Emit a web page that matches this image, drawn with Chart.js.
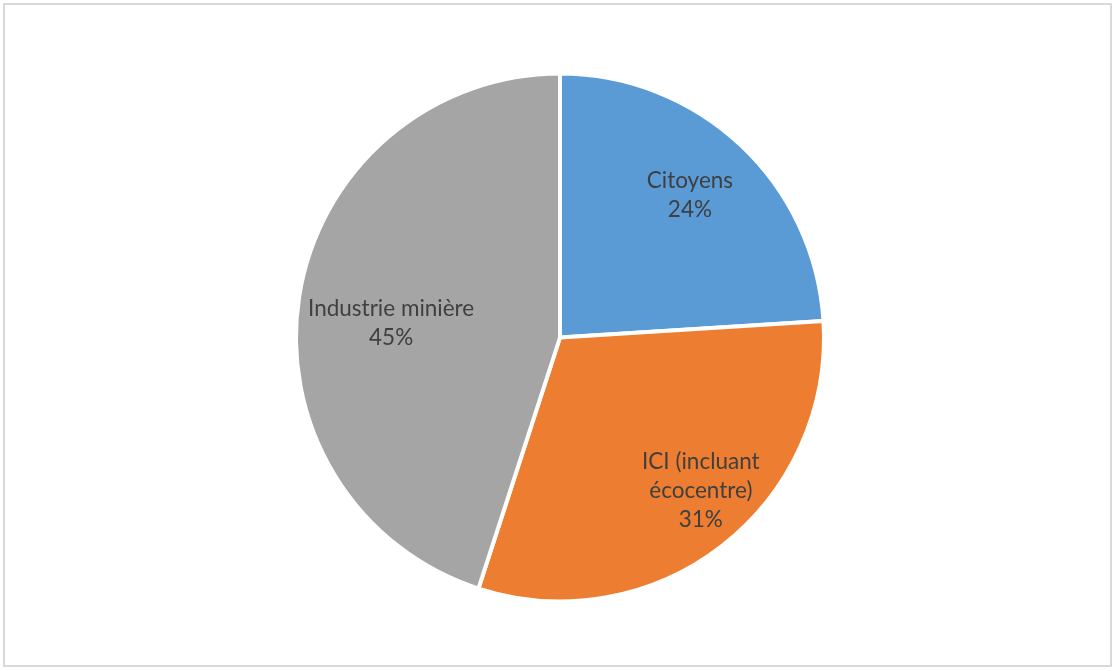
<!DOCTYPE html>
<html>
<head>
<meta charset="utf-8">
<script src="https://cdn.jsdelivr.net/npm/chart.js@4.4.1/dist/chart.umd.min.js"></script>
<style>
    html, body { margin: 0; padding: 0; background: #ffffff; }
    #wrap {
        position: absolute; left: 0; top: 0;
        width: 1116px; height: 671px;
    }
    #frame {
        position: absolute; left: 3px; top: 3px;
        width: 1109px; height: 664px;
        border: 2px solid #d9d9d9; box-sizing: border-box;
    }
    canvas { position: absolute; left: 0; top: 0; }
</style>
</head>
<body>
<div id="wrap">
    <div id="frame"></div>
    <canvas id="pie-chart" width="1116" height="671"></canvas>
</div>
<script>
    // Share of collected material by source
    const categories = ['Citoyens', 'ICI (incluant écocentre)', 'Industrie minière'];
    const shares = [24, 31, 45];
    const sliceColors = ['#5B9BD5', '#ED7D31', '#A5A5A5'];

    // Label text split into lines the way they wrap inside the slices
    const labelLines = [['Citoyens'], ['ICI (incluant', 'écocentre)'], ['Industrie minière']];
    // Distance of each label from the centre, as a share of the radius, plus a small nudge
    const labelRadius = [0.73, 0.79, 0.64];
    const labelNudge = [[-2, -2], [13, -12], [-2, 12]];

    const sliceLabels = {
        id: 'sliceLabels',
        afterDatasetsDraw(chart) {
            const ctx = chart.ctx;
            const meta = chart.getDatasetMeta(0);
            const total = shares.reduce((a, b) => a + b, 0);
            ctx.save();
            ctx.font = '22.5px Lato';
            ctx.fillStyle = '#3f3f3f';
            ctx.textAlign = 'center';
            ctx.textBaseline = 'middle';
            meta.data.forEach(function(arc, i) {
                const p = arc.getProps(['x', 'y', 'startAngle', 'endAngle', 'outerRadius'], true);
                const mid = (p.startAngle + p.endAngle) / 2;
                const r = p.outerRadius * labelRadius[i];
                const cx = p.x + Math.cos(mid) * r + labelNudge[i][0];
                const cy = p.y + Math.sin(mid) * r + labelNudge[i][1];
                const lines = labelLines[i].concat([Math.round(shares[i] / total * 100) + '%']);
                const lh = 29;
                const top = cy - (lines.length - 1) * lh / 2;
                lines.forEach(function(t, j) {
                    ctx.fillText(t, cx, top + j * lh);
                });
            });
            ctx.restore();
        }
    };

    const pieChart = new Chart(document.getElementById('pie-chart').getContext('2d'), {
        type: 'pie',
        data: {
            labels: categories,
            datasets: [{
                data: shares,
                backgroundColor: sliceColors,
                borderColor: '#ffffff',
                borderWidth: 4
            }]
        },
        options: {
            responsive: false,
            animation: false,
            radius: 264,
            layout: {
                padding: { left: 4, right: 0, top: 4, bottom: 0 }
            },
            plugins: {
                legend: { display: false },
                tooltip: { enabled: false }
            }
        },
        plugins: [sliceLabels]
    });
</script>
</body>
</html>
